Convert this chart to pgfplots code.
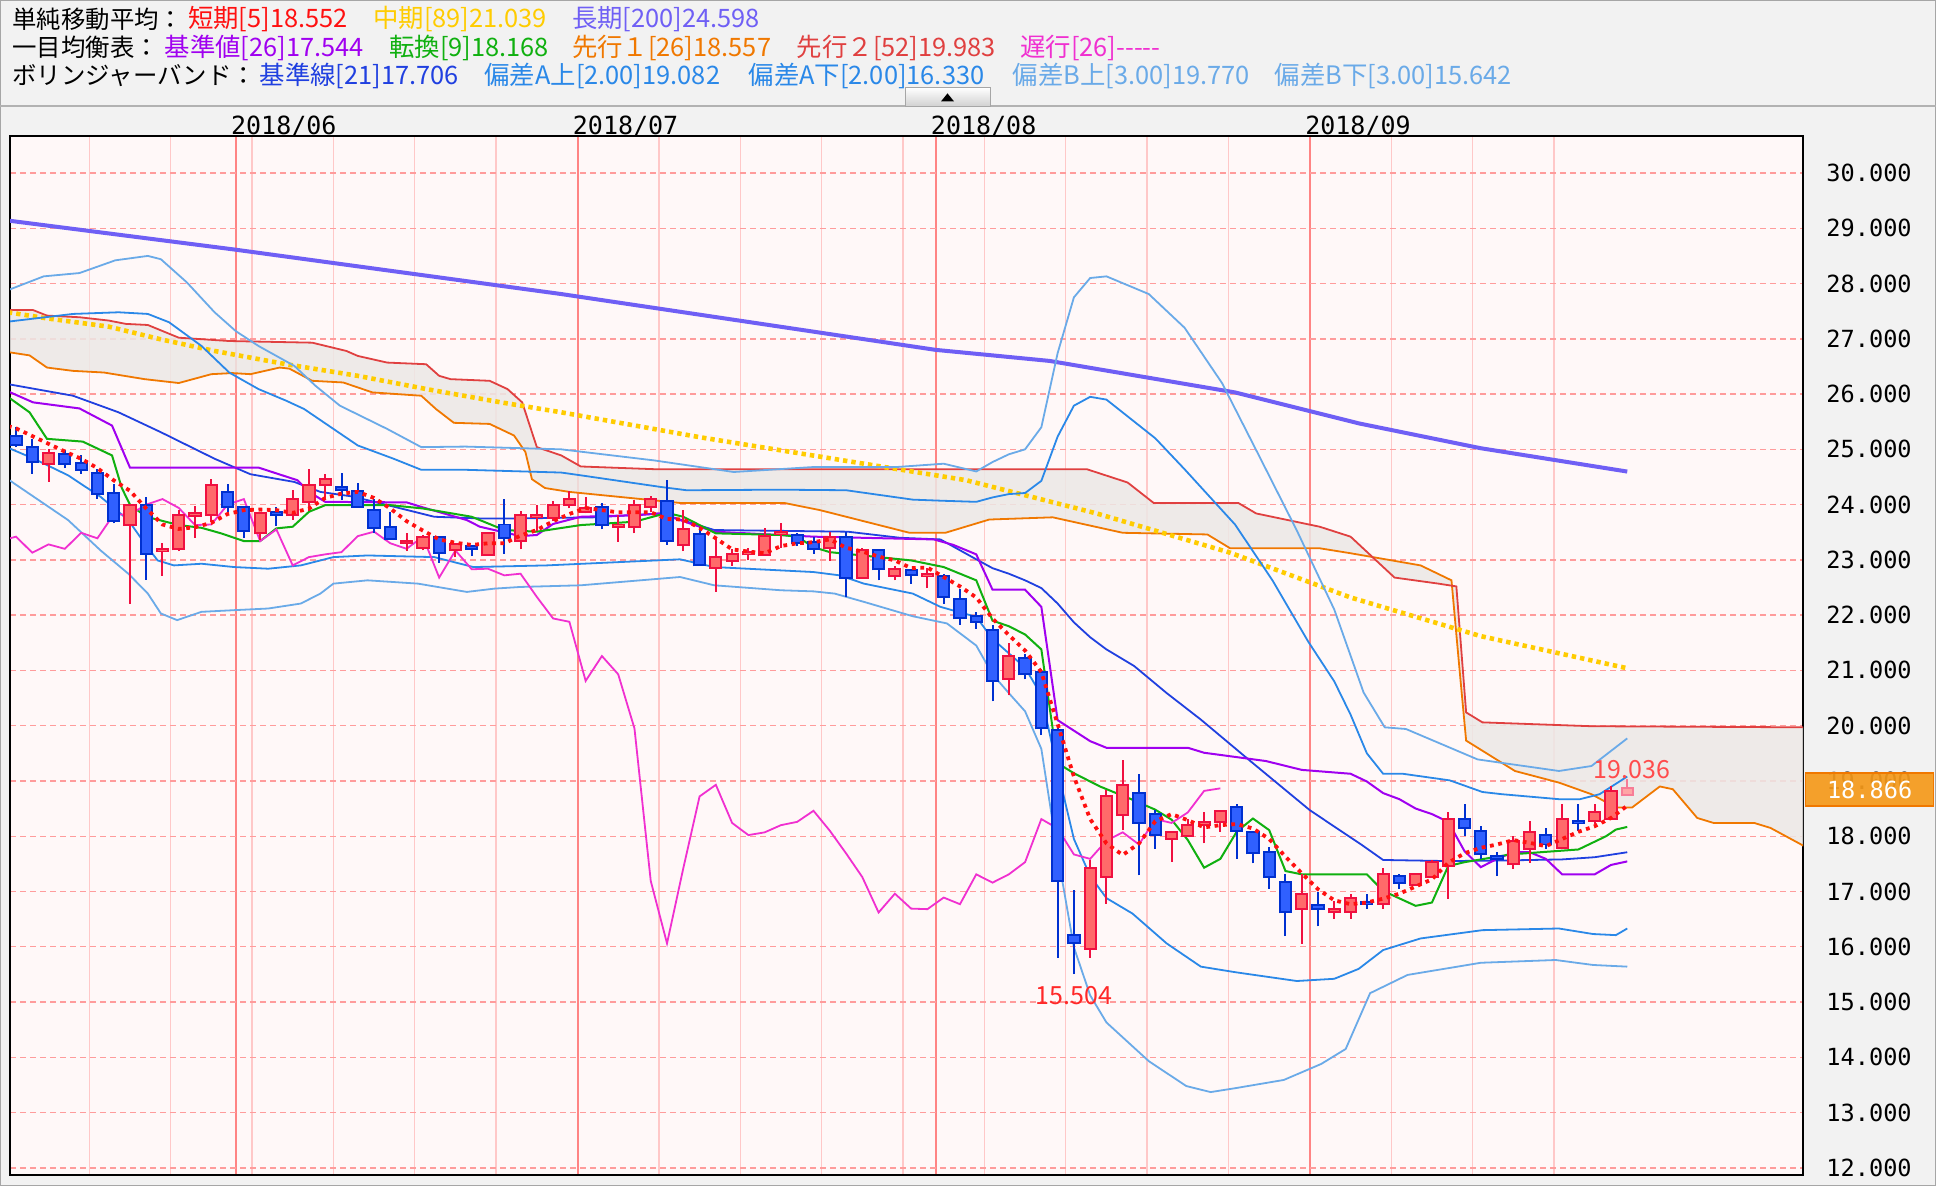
\documentclass[border=0pt]{standalone}
\usepackage{pgfplots}
\pgfplotsset{compat=1.18}
\usepackage{pgfplotstable}
\usepackage{fontspec}
\newfontfamily\jp{Noto Sans CJK JP}
\newfontfamily\mono{DejaVu Sans Mono}

\definecolor{panel}{HTML}{F2F2F2}
\definecolor{plotbg}{HTML}{FFF8F8}
\definecolor{hgrid}{HTML}{FF9C9C}
\definecolor{weekline}{HTML}{FFC8C8}
\definecolor{monthline}{HTML}{FF8484}
\definecolor{upfill}{HTML}{FF6A6A}
\definecolor{upline}{HTML}{F01040}
\definecolor{dnfill}{HTML}{3060FF}
\definecolor{dnline}{HTML}{0030D0}
\definecolor{smafive}{HTML}{FF1010}
\definecolor{smamid}{HTML}{FFCC00}
\definecolor{smalong}{HTML}{6F5FF5}
\definecolor{kijun}{HTML}{A000F0}
\definecolor{tenkan}{HTML}{10B010}
\definecolor{senkoua}{HTML}{F07800}
\definecolor{senkoub}{HTML}{E04040}
\definecolor{cloud}{HTML}{ECE8E6}
\definecolor{chikou}{HTML}{F030D0}
\definecolor{bbmid}{HTML}{2040E0}
\definecolor{bbtwo}{HTML}{2A88E8}
\definecolor{bbthree}{HTML}{6AAAE8}
\definecolor{pricebox}{HTML}{F59A1C}

% candles: index, open, high, low, close
\pgfplotstableread{
i o h l c
2 24.74 25.01 24.41 24.94
7 23.63 24.02 22.21 24.00
9 23.16 23.31 22.71 23.20
10 23.19 23.90 23.16 23.81
11 23.79 23.97 23.40 23.85
12 23.81 24.47 23.69 24.36
15 23.48 23.85 23.36 23.85
17 23.81 24.26 23.73 24.10
18 24.04 24.65 23.89 24.36
19 24.36 24.55 24.08 24.46
24 23.31 23.49 23.16 23.34
25 23.22 23.45 23.17 23.42
27 23.17 23.31 23.05 23.28
29 23.08 23.49 23.08 23.49
31 23.34 23.89 23.19 23.82
32 23.78 24.00 23.52 23.82
33 23.76 24.07 23.70 24.00
34 23.99 24.25 23.93 24.10
35 23.87 24.13 23.84 23.94
37 23.60 23.82 23.33 23.64
38 23.60 24.08 23.48 24.00
39 23.96 24.15 23.86 24.10
41 23.27 23.90 23.16 23.55
43 22.86 23.40 22.42 23.05
44 22.98 23.20 22.89 23.10
45 23.10 23.22 22.99 23.14
46 23.08 23.57 23.08 23.43
47 23.46 23.67 23.22 23.51
50 23.22 23.50 22.98 23.42
52 22.68 23.22 22.68 23.17
54 22.71 22.89 22.63 22.84
56 22.71 22.86 22.49 22.75
61 20.85 21.49 20.55 21.26
66 15.96 17.57 15.80 17.42
67 17.26 18.83 16.78 18.72
68 18.39 19.38 18.11 18.93
71 17.95 18.07 17.54 18.07
72 18.01 18.31 17.98 18.20
73 18.20 18.43 17.87 18.26
74 18.25 18.46 18.08 18.46
79 16.69 17.32 16.05 16.96
81 16.62 16.83 16.51 16.68
82 16.63 16.96 16.51 16.89
84 16.77 17.43 16.69 17.31
86 17.11 17.32 17.11 17.31
87 17.26 17.57 17.26 17.53
88 17.46 18.43 16.87 18.31
92 17.49 18.00 17.41 17.92
93 17.77 18.27 17.52 18.07
95 17.79 18.58 17.76 18.31
97 18.28 18.58 18.22 18.43
98 18.31 18.91 18.31 18.82
}\upc

% the still-open last session, drawn paler
\pgfplotstableread{
i o h l c
99 18.74 19.036 18.74 18.866
}\lastc

\pgfplotstableread{
i o h l c
0 25.25 25.40 25.04 25.07
1 25.04 25.19 24.56 24.77
3 24.91 24.98 24.66 24.74
4 24.75 24.90 24.56 24.63
5 24.57 24.65 24.11 24.20
6 24.21 24.38 23.66 23.70
8 24.00 24.14 22.64 23.11
13 24.22 24.37 23.84 23.95
14 23.95 23.98 23.40 23.52
16 23.86 23.95 23.61 23.81
20 24.32 24.58 24.08 24.26
21 24.25 24.40 23.95 23.96
22 23.90 24.10 23.48 23.58
23 23.60 23.87 23.37 23.37
26 23.42 23.43 22.95 23.13
28 23.25 23.25 23.07 23.20
30 23.64 24.11 23.11 23.39
36 23.96 24.03 23.55 23.63
40 24.07 24.44 23.27 23.34
42 23.46 23.60 22.89 22.90
48 23.45 23.49 23.25 23.30
49 23.32 23.42 23.11 23.20
51 23.42 23.51 22.32 22.68
53 23.17 23.17 22.63 22.83
55 22.81 22.81 22.57 22.72
57 22.71 22.75 22.21 22.33
58 22.30 22.47 21.83 21.94
59 21.98 22.06 21.75 21.88
60 21.73 21.83 20.44 20.81
62 21.23 21.29 20.84 20.93
63 20.97 21.02 19.83 19.95
64 19.93 19.96 15.80 17.19
65 16.21 17.03 15.504 16.06
69 18.79 19.13 17.29 18.24
70 18.40 18.47 17.77 18.02
75 18.53 18.58 17.59 18.10
76 18.07 18.07 17.51 17.69
77 17.71 17.81 17.05 17.26
78 17.17 17.32 16.19 16.62
80 16.75 16.99 16.37 16.69
83 16.81 16.96 16.69 16.77
85 17.28 17.32 17.05 17.16
89 18.32 18.58 18.00 18.14
90 18.10 18.19 17.58 17.67
91 17.65 17.71 17.28 17.59
94 18.03 18.15 17.77 17.85
96 18.28 18.58 18.10 18.24
}\dnc

% ichimoku leading span 1 (shifted 26 ahead)
\pgfplotstableread{
x y
-0.5 26.76
0.83 26.70
1.9 26.48
3.5 26.42
5.4 26.39
7.9 26.27
10.0 26.20
12.0 26.36
13.3 26.38
14.4 26.36
16.2 26.48
16.8 26.46
18.2 26.24
20.1 26.21
21.9 26.03
24.9 25.97
25.8 25.73
26.9 25.48
29.1 25.46
30.6 25.25
31.3 24.95
31.7 24.46
32.5 24.30
34 24.23
40.8 24.03
47.2 24.03
49.4 23.90
54.9 23.49
57.1 23.49
59.8 23.73
63.7 23.77
68 23.49
73.2 23.46
74.6 23.21
80.1 23.21
82 23.12
86.3 22.90
88.2 22.63
88.7 21.00
89.1 19.73
92.1 19.18
94.8 18.97
96.8 18.76
98.3 18.52
99.3 18.52
101 18.90
101.8 18.85
103.3 18.33
104.3 18.24
106.8 18.24
107.8 18.15
110 17.80
}\spana

% ichimoku leading span 2
\pgfplotstableread{
x y
-0.5 27.52
1.05 27.52
1.9 27.42
3.9 27.39
5.7 27.33
6.75 27.27
8.1 27.25
10.0 27.02
13.1 26.96
18.2 26.93
20.3 26.78
21 26.69
22.8 26.57
25.2 26.54
26.0 26.33
26.7 26.27
29.1 26.24
30.2 26.09
31.1 25.85
32 25.04
33.5 24.89
34.7 24.69
39.3 24.64
65.8 24.64
68.3 24.40
69.9 24.03
75.1 24.03
76.2 23.84
80.1 23.60
82 23.42
84.7 22.68
87.4 22.57
88.5 22.52
89.1 20.24
90.1 20.06
96.8 19.99
110 19.97
}\spanb

\begin{document}
\begin{tikzpicture}
\useasboundingbox (0,0) rectangle (968pt,593pt);
\fill[panel] (0,0) rectangle (968pt,593pt);
\draw[black!35, line width=0.6pt] (0.3pt,0.3pt) rectangle (967.7pt,592.7pt);
\draw[black!30, line width=0.8pt] (0,540pt) -- (968pt,540pt);

% header
\begin{scope}[every node/.style={anchor=west, inner sep=0pt, font=\fontsize{12.7}{14}\jp}]
\node[text=black, font=\fontsize{12.2}{14}\jp] at (6pt,583.4pt) {単純移動平均：};
\node[text=smafive] at (93.8pt,583.4pt) {短期[5]18.552};
\node[text=smamid] at (186.4pt,583.4pt) {中期[89]21.039};
\node[text=smalong] at (285.8pt,583.4pt) {長期[200]24.598};
\node[text=black, font=\fontsize{12.2}{14}\jp] at (6pt,569.2pt) {一目均衡表：};
\node[text=kijun] at (82.1pt,569.2pt) {基準値[26]17.544};
\node[text=tenkan] at (194.5pt,569.2pt) {転換[9]18.168};
\node[text=senkoua] at (285.8pt,569.2pt) {先行１[26]18.557};
\node[text=senkoub] at (398.2pt,569.2pt) {先行２[52]19.983};
\node[text=chikou] at (509.9pt,569.2pt) {遅行[26]-----};
\node[text=black, font=\fontsize{12.2}{14}\jp] at (6pt,555pt) {ボリンジャーバンド：};
\node[text=bbmid] at (129.6pt,555pt) {基準線[21]17.706};
\node[text=bbtwo] at (242pt,555pt) {偏差A上[2.00]19.082};
\node[text=bbtwo] at (374.1pt,555pt) {偏差A下[2.00]16.330};
\node[text=bbthree] at (506.2pt,555pt) {偏差B上[3.00]19.770};
\node[text=bbthree] at (637.1pt,555pt) {偏差B下[3.00]15.642};
\end{scope}
\shade[top color=white, bottom color=black!18, draw=black!35] (452.5pt,540pt) rectangle (495pt,549.2pt);
\fill[black] (470.5pt,542.3pt) -- (477pt,542.3pt) -- (473.75pt,546.3pt) -- cycle;

\begin{axis}[
  at={(5pt,5.5pt)}, anchor=south west,
  scale only axis, width=896.5pt, height=519.5pt,
  xmin=-0.37, xmax=109.8, ymin=11.87, ymax=30.67,
  axis background/.style={fill=plotbg},
  axis line style={black, line width=1pt},
  xtick={13.5,34.5,56.5,79.5},
  xticklabels={2018/06,2018/07,2018/08,2018/09},
  xticklabel pos=upper,
  xticklabel style={anchor=south west, inner sep=0pt, xshift=-2.5pt, yshift=-0.5pt,
    font=\fontsize{12.5}{13}\mono},
  minor xtick={4.5,9.5,14.5,19.5,24.5,29.5,39.5,44.5,49.5,54.5,59.5,64.5,69.5,74.5,84.5,89.5,94.5},
  xmajorgrids, xminorgrids, ymajorgrids,
  major x grid style={color=monthline, line width=1pt},
  minor x grid style={color=weekline, line width=0.7pt},
  major y grid style={color=hgrid, line width=0.7pt, dash pattern=on 3pt off 2pt},
  ytick={12,13,...,30},
  yticklabel pos=right,
  yticklabel style={anchor=west, inner sep=0pt, xshift=11.5pt,
    font=\fontsize{11.8}{13}\mono,
    /pgf/number format/fixed, /pgf/number format/fixed zerofill,
    /pgf/number format/precision=3, /pgf/number format/assume math mode=true},
  major tick length=0pt, minor tick length=0pt,
  tick style={draw=none},
]

% cloud: span 2 forward, span 1 backward
\addplot[fill=cloud, fill opacity=0.85, draw=none, forget plot] coordinates {
(-0.5,27.52) (1.05,27.52) (1.9,27.42) (3.9,27.39) (5.7,27.33) (6.75,27.27) (8.1,27.25)
(10.0,27.02) (13.1,26.96) (18.2,26.93) (20.3,26.78) (21,26.69) (22.8,26.57) (25.2,26.54)
(26.0,26.33) (26.7,26.27) (29.1,26.24) (30.2,26.09) (31.1,25.85) (32,25.04) (33.5,24.89)
(34.7,24.69) (39.3,24.64) (65.8,24.64) (68.3,24.40) (69.9,24.03) (75.1,24.03) (76.2,23.84)
(80.1,23.60) (82,23.42) (84.7,22.68) (87.4,22.57) (88.5,22.52) (89.1,20.24) (90.1,20.06)
(96.8,19.99) (110,19.97)
(110,17.80) (107.8,18.15) (106.8,18.24) (104.3,18.24) (103.3,18.33) (101.8,18.85) (101,18.90)
(99.3,18.52) (98.3,18.52) (96.8,18.76) (94.8,18.97) (92.1,19.18) (89.1,19.73) (88.7,21.00)
(88.2,22.63) (86.3,22.90) (82,23.12) (80.1,23.21) (74.6,23.21) (73.2,23.46) (68,23.49)
(63.7,23.77) (59.8,23.73) (57.1,23.49) (54.9,23.49) (49.4,23.90) (47.2,24.03) (40.8,24.03)
(34,24.23) (32.5,24.30) (31.7,24.46) (31.3,24.95) (30.6,25.25) (29.1,25.46) (26.9,25.48)
(25.8,25.73) (24.9,25.97) (21.9,26.03) (20.1,26.21) (18.2,26.24) (16.8,26.46) (16.2,26.48)
(14.4,26.36) (13.3,26.38) (12.0,26.36) (10.0,26.20) (7.9,26.27) (5.4,26.39) (3.5,26.42)
(1.9,26.48) (0.83,26.70) (-0.5,26.76)};
\addplot[senkoua, line width=0.9pt] table {\spana};
\addplot[senkoub, line width=0.9pt] table {\spanb};

% SMA 200
\addplot[smalong, line width=2pt] coordinates {
(-0.5,29.14) (13.3,28.62) (33.5,27.81) (56.5,26.80) (63.5,26.60) (74.9,26.03)
(82.5,25.47) (90,25.02) (99,24.598)};

% SMA 89
\addplot[smamid, line width=2.3pt, dash pattern=on 2.2pt off 2pt] coordinates {
(-0.5,27.48) (1.9,27.37) (5.7,27.22) (8.9,26.99) (12.2,26.78) (16.6,26.54) (21,26.33)
(25.4,26.08) (29.8,25.85) (33.5,25.67) (42,25.22) (58.4,24.44)
(66.4,23.84) (74.6,23.13) (82,22.32) (90,21.62) (99,21.039)};

% Bollinger +-3 sigma
\addplot[bbthree, line width=0.9pt] coordinates {
(-0.5,27.88) (1.7,28.13) (3.9,28.19) (6.1,28.42) (8.1,28.50) (8.9,28.44) (10.5,28.02)
(12.2,27.48) (13.5,27.14) (14.9,26.87) (17.1,26.51) (18.4,26.15) (19.9,25.79) (22.8,25.37)
(24.9,25.04) (27.6,25.05) (33.5,25.00)
(39.2,24.80) (44.1,24.59) (49,24.68) (54.1,24.68) (57,24.74) (59,24.60) (60,24.77)
(61,24.91) (62,25.00) (63,25.40) (64,26.74) (65,27.75) (66,28.10) (67,28.13) (69.6,27.81)
(71.8,27.20) (74.1,26.20) (76.4,24.87) (78.7,23.53) (81,22.10) (82.8,20.60) (84.1,19.97)
(85.4,19.94) (89.8,19.39) (94.8,19.18) (96.8,19.27) (99,19.77)};
\addplot[bbthree, line width=0.9pt] coordinates {
(-0.5,24.46) (1.1,24.14) (3.2,23.72) (5.2,23.17) (6.9,22.75) (8.1,22.39) (8.9,22.03)
(9.9,21.91) (11.4,22.06) (13.4,22.09) (15.5,22.12) (17.5,22.21) (18.7,22.39) (19.5,22.57)
(21.6,22.63) (24.7,22.57) (27.7,22.42) (29.4,22.48) (31,22.51) (34.7,22.54) (40.8,22.69)
(42.9,22.54) (47,22.45) (49,22.43) (50.3,22.39) (52.1,22.24) (55.1,21.98) (57.2,21.85)
(59,21.45) (60,20.93) (61,20.59) (62,20.26) (63,19.58) (64,17.68) (65,15.99) (66,15.12)
(67,14.63) (69.6,13.93) (71.9,13.48) (73.4,13.37) (74.9,13.44) (77.9,13.59) (80.2,13.88)
(81.7,14.15) (83.2,15.16) (85.5,15.49) (90,15.71) (94.6,15.76) (96.9,15.67) (99,15.64)};

% Bollinger +-2 sigma
\addplot[bbtwo, line width=0.9pt] coordinates {
(-0.5,27.31) (3.5,27.45) (6.3,27.48) (8.1,27.45) (9.4,27.30) (11.4,26.87) (13.1,26.39)
(14.9,26.09) (16.6,25.88) (17.7,25.73) (19.5,25.37) (21,25.07) (23.2,24.83) (24.9,24.63)
(27.6,24.63) (33.5,24.58) (34.7,24.53) (39.6,24.32) (41.2,24.26)
(46.9,24.27) (51,24.26) (55.1,24.09) (56.9,24.07) (59,24.05) (60,24.13) (61,24.19) (62,24.21)
(63,24.43) (64,25.23) (65,25.79) (66,25.95) (67,25.90) (70,25.20) (71.8,24.64) (74.9,23.64)
(77.2,22.63) (79.4,21.52) (81,20.80) (82,20.20) (83,19.50) (84,19.13) (85.2,19.13) (88.1,19.01)
(90.1,18.80) (91.3,18.76) (94.8,18.67) (96.1,18.67) (97.3,18.76) (99,19.08)};
\addplot[bbtwo, line width=0.9pt] coordinates {
(-0.5,25.03) (1.1,24.83) (3.2,24.53) (5.2,24.14) (6.9,23.72) (7.9,23.30) (8.7,22.99) (9.7,22.90)
(11.4,22.93) (13.4,22.87) (15.5,22.84) (17.5,22.90) (19.5,23.05) (21.6,23.08) (25.7,23.05)
(28.1,22.87) (32.6,22.90) (40.8,23.01) (42.9,22.87) (49,22.78) (50.6,22.72) (52.1,22.57)
(55.1,22.39) (56.8,22.15) (58,22.05) (59,21.97) (60,21.57) (61,21.31) (62,21.05) (63,20.55)
(64,19.19) (65,17.95) (66,17.28) (67,16.88) (68.6,16.60) (70.7,16.06) (72.8,15.64) (74.9,15.54)
(78.7,15.38) (81,15.42) (82.5,15.60) (84,15.94) (86.3,16.15) (90.1,16.30) (94.8,16.33)
(96.9,16.23) (98.3,16.21) (99,16.33)};

% Bollinger middle
\addplot[bbmid, line width=0.9pt] coordinates {
(-0.5,26.18) (3.5,25.97) (6.3,25.67) (8.9,25.31) (12.2,24.83) (14.4,24.55) (17.1,24.41)
(18.7,24.23) (20.6,24.15) (21.6,24.08) (25.7,23.78) (28.5,23.75) (31,23.75) (35.6,23.77)
(39.6,23.84) (42.9,23.54) (51.1,23.51) (54.3,23.40) (56.8,23.37) (59,23.01) (60,22.85)
(61,22.75) (62,22.63) (63,22.49) (64,22.21) (65,21.87) (66,21.60) (67,21.38) (68.7,21.08)
(70.7,20.59) (72.8,20.11) (75.8,19.37) (79.5,18.47) (82.7,17.84) (84,17.57) (88,17.55)
(91.2,17.56) (95,17.58) (97,17.62) (99,17.71)};

% kijun
\addplot[kijun, line width=1pt] coordinates {
(-0.5,26.05) (1.05,25.85) (3.9,25.74) (5.9,25.43) (7,24.67) (14.9,24.67) (17.3,24.44)
(18,24.23) (19,24.05) (24,24.04) (25,23.95) (27.7,23.72) (28.5,23.60) (31,23.43) (32,23.45)
(33,23.65) (34.7,23.78) (38.2,23.81) (39.6,23.84) (41.7,23.63) (42.9,23.51) (49,23.42)
(56.4,23.37) (57.6,23.27) (59,23.10) (60,22.46) (62,22.46) (63,22.15) (64,20.10) (66,19.72)
(67,19.60) (72,19.60) (73,19.51) (76.8,19.36) (79,19.20) (82,19.13) (83,18.99) (84,18.78)
(85,18.67) (86,18.50) (87,18.40) (88,18.26) (89,17.73) (90,17.44) (91,17.59) (92,17.71)
(93,17.71) (94,17.59) (95,17.31) (97,17.31) (98,17.48) (99,17.544)};

% tenkan
\addplot[tenkan, line width=1pt] coordinates {
(-0.5,25.95) (0.83,25.67) (1.9,25.19) (4.1,25.14) (5.9,24.89) (6.5,24.30) (7,24.00) (8,23.78)
(10,23.63) (11.4,23.58) (12.6,23.48) (14,23.34) (15,23.34) (16,23.57) (17,23.60) (18,23.87)
(19,23.99) (23,23.99) (25,23.93) (28,23.78) (29,23.66) (30,23.54) (32,23.51) (34.7,23.63)
(38,23.69) (40,23.85) (41,23.78) (43,23.48) (47,23.45) (48,23.42) (49,23.23) (50,23.14)
(55,22.99) (57,22.87) (59,22.63) (60,21.90) (61,21.80) (62,21.65) (63,21.38) (64,19.32)
(65,19.14) (66.6,18.90) (68.6,18.66) (70,18.48) (71,18.30) (72,17.93) (73,17.43) (74,17.59)
(75,18.08) (76,18.32) (77,18.11) (78,17.37) (79,17.31) (83,17.31) (84,17.01) (86,16.74)
(87,16.80) (88,17.46) (89,17.53) (91.8,17.67) (96,17.76) (97.7,18.00) (98.3,18.12) (99,18.168)};

% chikou (close shifted back)
\addplot[chikou, line width=0.9pt] coordinates {
(-1,23.34) (0,23.42) (1,23.13) (2,23.28) (3,23.20) (4,23.49) (5,23.39) (6,23.82) (7,23.82)
(8,24.00) (9,24.10) (10,23.94) (11,23.63) (12,23.64) (13,24.00) (14,24.10) (15,23.34)
(16,23.55) (17,22.90) (18,23.05) (19,23.10) (20,23.14) (21,23.43) (22,23.51) (23,23.30)
(24,23.20) (25,23.42) (26,22.68) (27,23.17) (28,22.83) (29,22.84) (30,22.72) (31,22.75)
(32,22.33) (33,21.94) (34,21.88) (35,20.81) (36,21.26) (37,20.93) (38,19.95) (39,17.19)
(40,16.06) (41,17.42) (42,18.72) (43,18.93) (44,18.24) (45,18.02) (46,18.07) (47,18.20)
(48,18.26) (49,18.46) (50,18.10) (51,17.69) (52,17.26) (53,16.62) (54,16.96) (55,16.69)
(56,16.68) (57,16.89) (58,16.77) (59,17.31) (60,17.16) (61,17.31) (62,17.53) (63,18.31)
(64,18.14) (65,17.67) (66,17.59) (67,17.92) (68,18.07) (69,17.85) (70,18.31) (71,18.24)
(72,18.43) (73,18.82) (74,18.866)};

% candles: wick, body outline, body fill (vertical segments)
\addplot[upline, line width=1pt, quiver={u=0, v=\thisrow{h}-\thisrow{l}}]
  table[x=i, y=l] {\upc};
\addplot[upline, line width=6.6pt, quiver={u=0, v=\thisrow{c}-\thisrow{o}+0.036}]
  table[x=i, y expr={\thisrow{o}-0.018}] {\upc};
\addplot[upfill, line width=4.6pt, quiver={u=0, v={max(\thisrow{c}-\thisrow{o}-0.036,0.0001)}}]
  table[x=i, y expr={\thisrow{o}+0.018}] {\upc};
\addplot[dnline, line width=1pt, quiver={u=0, v=\thisrow{h}-\thisrow{l}}]
  table[x=i, y=l] {\dnc};
\addplot[dnline, line width=6.6pt, quiver={u=0, v=\thisrow{o}-\thisrow{c}+0.036}]
  table[x=i, y expr={\thisrow{c}-0.018}] {\dnc};
\addplot[dnfill, line width=4.6pt, quiver={u=0, v={max(\thisrow{o}-\thisrow{c}-0.036,0.0001)}}]
  table[x=i, y expr={\thisrow{c}+0.018}] {\dnc};
\addplot[upline!55, line width=1pt, quiver={u=0, v=\thisrow{h}-\thisrow{l}}]
  table[x=i, y=l] {\lastc};
\addplot[upline!55, line width=6.6pt, quiver={u=0, v=\thisrow{c}-\thisrow{o}+0.036}]
  table[x=i, y expr={\thisrow{o}-0.018}] {\lastc};
\addplot[upfill!60, line width=4.6pt, quiver={u=0, v={max(\thisrow{c}-\thisrow{o}-0.036,0.0001)}}]
  table[x=i, y expr={\thisrow{o}+0.018}] {\lastc};

% SMA 5
\addplot[smafive, line width=1.9pt, dash pattern=on 1.9pt off 2.3pt] coordinates {
(-0.5,25.42) (0,25.38) (1,25.24) (2,25.10) (3,24.96) (4,24.83) (5,24.66) (6,24.44) (7,24.25)
(8,23.93) (9,23.64) (10,23.56) (11,23.59) (12,23.67) (13,23.83) (14,23.90) (15,23.91) (16,23.90)
(17,23.85) (18,23.93) (19,24.12) (20,24.20) (21,24.23) (22,24.12) (23,23.93) (24,23.70)
(25,23.53) (26,23.37) (27,23.31) (28,23.27) (29,23.30) (30,23.30) (31,23.44) (32,23.54)
(33,23.70) (34,23.83) (35,23.94) (36,23.90) (37,23.86) (38,23.86) (39,23.86) (40,23.74)
(41,23.73) (42,23.58) (43,23.39) (44,23.19) (45,23.15) (46,23.12) (47,23.25) (48,23.30)
(49,23.32) (50,23.37) (51,23.22) (52,23.15) (53,23.06) (54,22.99) (55,22.85) (56,22.86)
(57,22.69) (58,22.52) (59,22.32) (60,21.94) (61,21.64) (62,21.36) (63,20.97) (64,20.03)
(65,19.08) (66,18.31) (67,17.87) (68,17.66) (69,17.87) (70,18.27) (71,18.40) (72,18.29)
(73,18.16) (74,18.20) (75,18.22) (76,18.14) (77,17.95) (78,17.63) (79,17.33) (80,17.04)
(81,16.84) (82,16.77) (83,16.80) (84,16.87) (85,16.96) (86,17.09) (87,17.22) (88,17.52)
(89,17.69) (90,17.79) (91,17.85) (92,17.93) (93,17.88) (94,17.82) (95,17.95) (96,18.08)
(97,18.18) (98,18.33) (99,18.552)};

\node[text=smafive!75, font=\fontsize{12.5}{13}\jp] at (axis cs:99.3,19.2) {19.036};
\node[text=smafive!90, font=\fontsize{12.5}{13}\jp] at (axis cs:65,15.12) {15.504};
\coordinate (pr) at (axis cs:109.8,18.866);
\end{axis}

\node[anchor=west, fill=pricebox, fill opacity=0.93, text opacity=1, draw=senkoua, line width=0.6pt,
  minimum width=64pt, minimum height=16.5pt, inner sep=0pt, text=white,
  font=\fontsize{11.8}{13}\mono] at ([xshift=1pt,yshift=-0.6pt]pr) {18.866};
\end{tikzpicture}
\end{document}
